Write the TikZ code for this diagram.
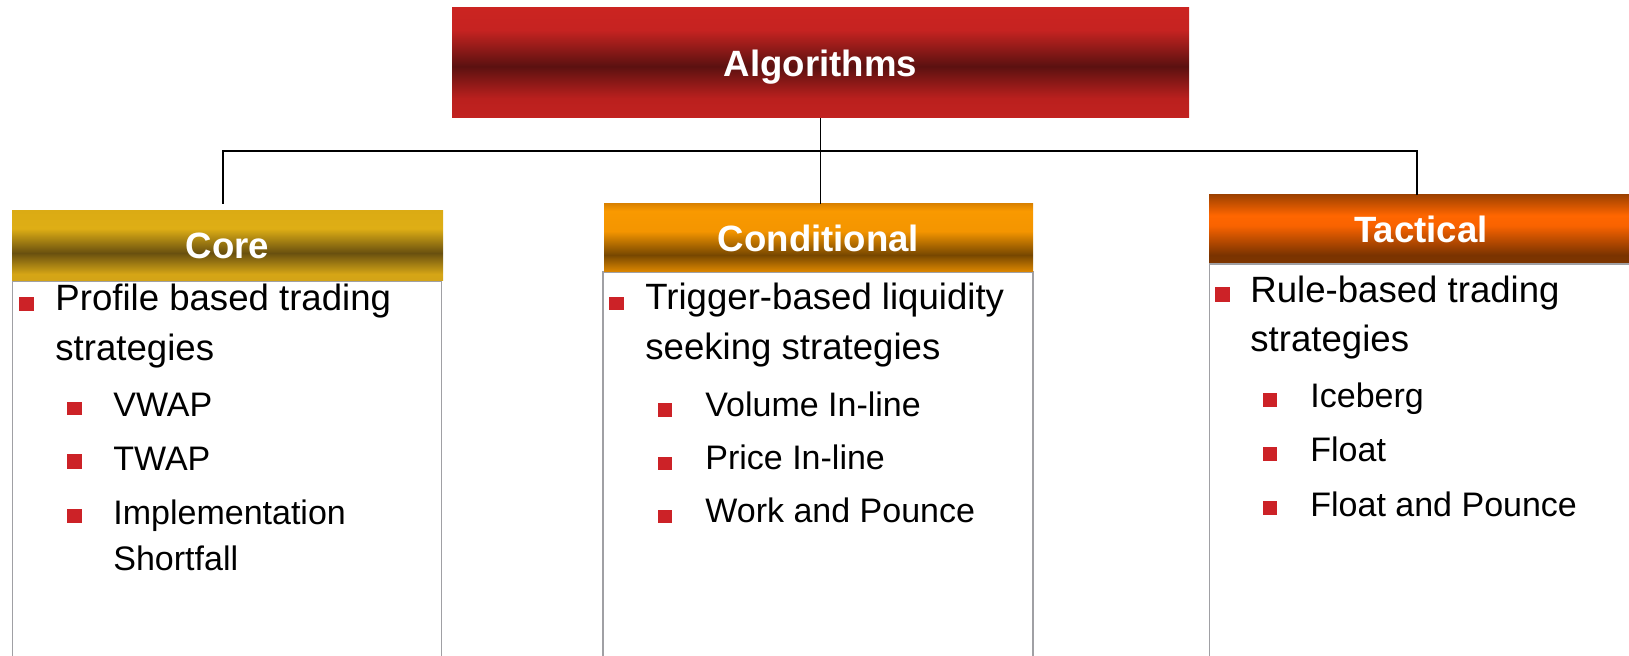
\documentclass[tikz,border=0pt]{standalone}
\usepackage{fontspec}
\setmainfont{Liberation Sans}
\definecolor{bordergray}{HTML}{A0A0A4}
\definecolor{bulred}{HTML}{CC2227}
% Algorithms box
\definecolor{aA}{HTML}{CB2421}
\definecolor{aB}{HTML}{C62321}
\definecolor{aC}{HTML}{5B1110}
\definecolor{aD}{HTML}{BA201E}
\definecolor{aE}{HTML}{C22220}
% Core
\definecolor{cA}{HTML}{DBAB14}
\definecolor{cB}{HTML}{DEAE15}
\definecolor{cC}{HTML}{69500F}
\definecolor{cD}{HTML}{D5A516}
\definecolor{cE}{HTML}{D3A417}
% Conditional
\definecolor{oA}{HTML}{DC8300}
\definecolor{oB}{HTML}{F99900}
\definecolor{oC}{HTML}{F49500}
\definecolor{oD}{HTML}{774700}
\definecolor{oE}{HTML}{E08900}
% Tactical
\definecolor{tA}{HTML}{A04200}
\definecolor{tB}{HTML}{FF6600}
\definecolor{tC}{HTML}{F96300}
\definecolor{tD}{HTML}{7A3300}
\definecolor{tE}{HTML}{7D3500}
\pgfdeclareverticalshading{algoshade}{100bp}{color(0bp)=(aE); color(25bp)=(aE); color(34bp)=(aD); color(48.5bp)=(aC); color(65bp)=(aB); color(75bp)=(aA); color(100bp)=(aA)}
\pgfdeclareverticalshading{coreshade}{100bp}{color(0bp)=(cE); color(25bp)=(cE); color(30bp)=(cD); color(45bp)=(cC); color(62.5bp)=(cB); color(75bp)=(cA); color(100bp)=(cA)}
\pgfdeclareverticalshading{condshade}{100bp}{color(0bp)=(oE); color(25bp)=(oE); color(37.5bp)=(oD); color(55bp)=(oC); color(70bp)=(oB); color(75bp)=(oA); color(100bp)=(oA)}
\pgfdeclareverticalshading{tactshade}{100bp}{color(0bp)=(tE); color(25bp)=(tE); color(31bp)=(tD); color(52.5bp)=(tC); color(60bp)=(tB); color(75bp)=(tA); color(100bp)=(tA)}
\begin{document}
\begin{tikzpicture}[x=0.5pt,y=-0.5pt,
  hdr/.style={inner sep=0pt, outer sep=0pt, anchor=north west, text=white,
    text depth=0pt, font=\fontsize{18.3pt}{22pt}\selectfont\bfseries},
  bodybox/.style={draw=bordergray, line width=0.7pt, fill=white, inner sep=0pt,
    outer sep=0pt, anchor=north west},
  mtxt/.style={anchor=base west, inner sep=0pt, font=\fontsize{18.3pt}{22pt}\selectfont},
  stxt/.style={anchor=base west, inner sep=0pt, font=\fontsize{17pt}{20pt}\selectfont},
  bul/.style={fill=bulred},
  conn/.style={draw=black, line width=0.65pt}]
\useasboundingbox (0,0) rectangle (1629,656);
\clip (0,0) rectangle (1629,656);

% bodies
\node[bodybox, minimum width=214.5pt, minimum height=215pt] (corebody) at (12.6,281) {};
\node[bodybox, minimum width=215pt, minimum height=220pt] (condbody) at (603,272) {};
\node[bodybox, minimum width=250pt, minimum height=225pt] (tactbody) at (1209.5,264) {};

% headers
\node[hdr, shade, shading=algoshade, minimum width=368.5pt, minimum height=55pt] (algo) at (452,8) {Algorithms};
\node[hdr, shade, shading=coreshade, minimum width=215.5pt, minimum height=35pt] (core) at (12,211) {Core};
\node[hdr, shade, shading=condshade, minimum width=214.5pt, minimum height=34pt] (cond) at (604,204) {Conditional};
\node[hdr, shade, shading=tactshade, minimum width=212pt, minimum height=34pt] (tact) at (1209,195) {Tactical};

% connectors
\coordinate (bus) at (820,151);
\draw[conn] (algo.south) -- (cond.north -| algo.south);
\draw[conn, shorten <=3.5pt] ([xshift=-2.25pt]core.north) |- (bus) -| ([xshift=-2pt]tact.north);

% Core texts
\fill[bul] (19,297) rectangle (34,311);
\node[mtxt] (c1) at (55,311) {Profile based trading};
\node[mtxt] (c2) at (55,361) {strategies};
\fill[bul] (67,402) rectangle (82,415);
\node[stxt] (c3) at (113,417) {VWAP};
\fill[bul] (67,454) rectangle (82,469);
\node[stxt] (c4) at (113,471) {TWAP};
\fill[bul] (67,509) rectangle (82,523);
\node[stxt] (c5) at (113,525) {Implementation};
\node[stxt] (c6) at (113,571) {Shortfall};

% Conditional texts
\fill[bul] (609,297) rectangle (624,310);
\node[mtxt] (o1) at (645,310) {Trigger-based liquidity};
\node[mtxt] (o2) at (645,360) {seeking strategies};
\fill[bul] (658,403) rectangle (672,417);
\node[stxt] (o3) at (705,417) {Volume In-line};
\fill[bul] (658,457) rectangle (672,470);
\node[stxt] (o4) at (705,470) {Price In-line};
\fill[bul] (658,510) rectangle (672,523);
\node[stxt] (o5) at (705,523) {Work and Pounce};

% Tactical texts
\fill[bul] (1215,287) rectangle (1230,302);
\node[mtxt] (t1) at (1250,303) {Rule-based trading};
\node[mtxt] (t2) at (1250,352) {strategies};
\fill[bul] (1263,393) rectangle (1277,407);
\node[stxt] (t3) at (1310,408) {Iceberg};
\fill[bul] (1263,447) rectangle (1277,461);
\node[stxt] (t4) at (1310,462) {Float};
\fill[bul] (1263,501) rectangle (1277,515);
\node[stxt] (t5) at (1310,517) {Float and Pounce};
\end{tikzpicture}
\end{document}
